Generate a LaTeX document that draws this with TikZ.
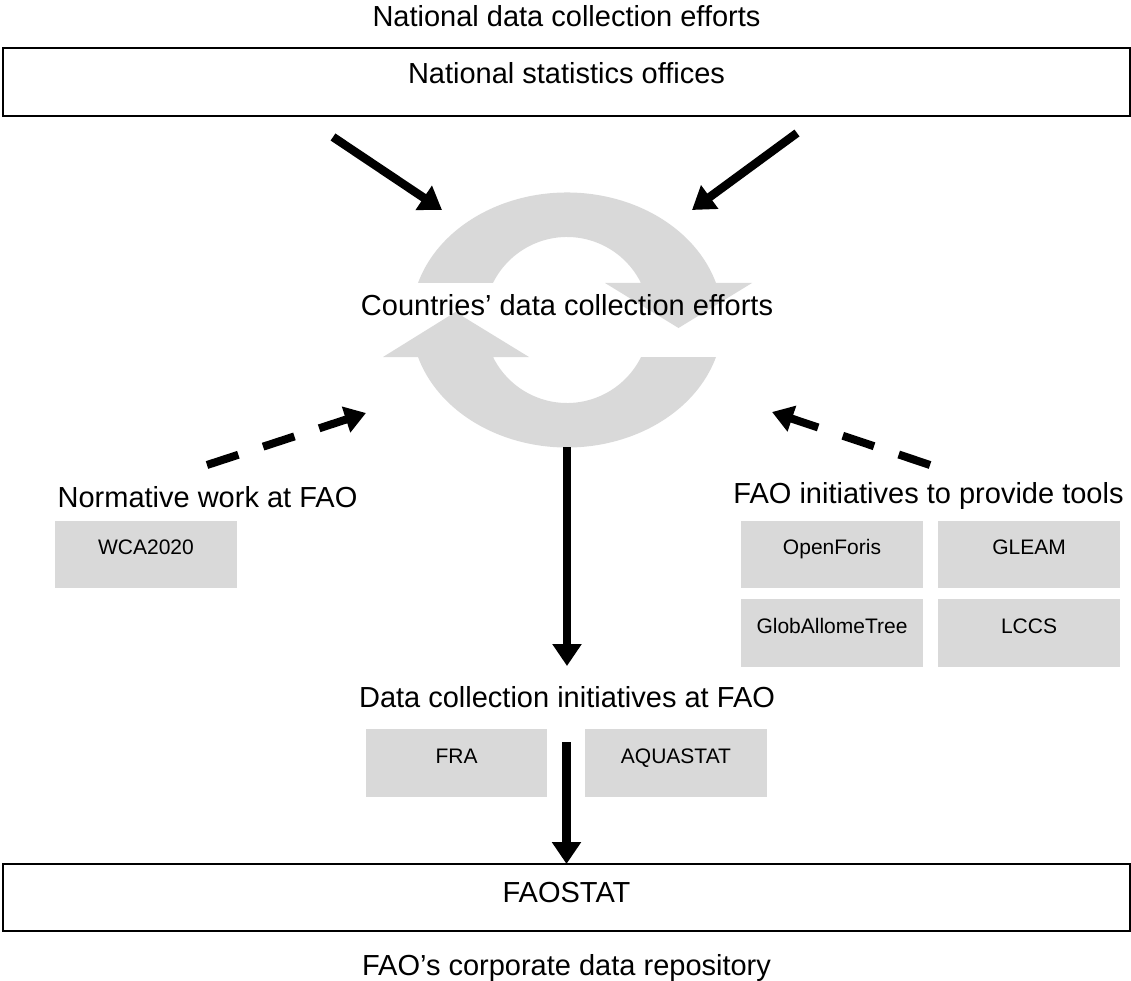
\documentclass[tikz,border=0pt]{standalone}
\usepackage{fontspec}
\setmainfont{Liberation Sans}
\usetikzlibrary{arrows.meta,shapes.geometric}
\definecolor{ringgray}{HTML}{D9D9D9}
\definecolor{boxgray}{HTML}{D9D9D9}
\begin{document}
\begin{tikzpicture}[x=1pt,y=-1pt,
  maintext/.style={font=\fontsize{29}{35}\selectfont, inner sep=0pt, anchor=base},
  bigbox/.style={draw=black, line width=2pt, rectangle, inner sep=0pt, outer sep=0pt,
    minimum width=1127pt, font=\fontsize{29}{35}\selectfont},
  graybox/.style={fill=boxgray, rectangle, inner sep=0pt, outer sep=0pt,
    minimum width=182pt, minimum height=67pt, text height=15pt, text depth=15pt,
    font=\fontsize{21}{25}\selectfont},
  solidarrow/.style={line width=8.5pt, -{Triangle[length=22pt,width=28pt]}},
  dasharrow/.style={line width=8pt, dash pattern=on 33pt off 26pt, -{Triangle[length=21pt,width=26pt]}},
]
\useasboundingbox (0,0) rectangle (1131,981);

% top
\node[maintext] (ndce) at (566.5,27) {National data collection efforts};
\node[bigbox, minimum height=68pt, text height=22pt, text depth=18pt] (nso) at (566.5,82) {National statistics offices};

% ring (cycle)
\node[ellipse, minimum width=311pt, minimum height=255pt, inner sep=0pt, outer sep=0pt] (ring) at (567,319.5) {};
\fill[ringgray] (418,283) arc[start angle=196.87, end angle=343.13, x radius=155.7, y radius=127.5]
  -- (752,283) -- (678.5,328) -- (605,283) -- (641,283)
  arc[start angle=333.53, end angle=206.47, x radius=82.7, y radius=83] -- cycle;
\fill[ringgray] (716,357) arc[start angle=16.87, end angle=163.13, x radius=155.7, y radius=127.5]
  -- (383,357) -- (455.5,312) -- (529,357) -- (493,357)
  arc[start angle=153.53, end angle=26.47, x radius=82.7, y radius=83] -- cycle;
\node[maintext] (cdce) at (567,315) {Countries’ data collection efforts};

% arrows from national offices
\coordinate (a1s) at (333,137);
\coordinate (a1e) at (442,210);
\coordinate (a2s) at (797,133);
\coordinate (a2e) at (692,210);
\draw[solidarrow] (a1s) -- (a1e);
\draw[solidarrow] (a2s) -- (a2e);

% left side
\node[maintext] (nw) at (207.5,507) {Normative work at FAO};
\node[graybox] (wca) at (146,554.5) {WCA2020};
\coordinate (d1s) at (207,465);
\coordinate (d1e) at (366,413);
\draw[dasharrow] (d1s) -- (d1e);

% right side
\node[maintext] (fit) at (928.5,503) {FAO initiatives to provide tools};
\node[graybox] (of) at (832,554.5) {OpenForis};
\node[graybox] (gleam) at (1029,554.5) {GLEAM};
\node[graybox, minimum height=68pt] (gat) at (832,633) {GlobAllomeTree};
\node[graybox, minimum height=68pt] (lccs) at (1029,633) {LCCS};
\coordinate (d2s) at (930,465);
\coordinate (d2e) at (772,412);
\draw[dasharrow] (d2s) -- (d2e);

% centre down
\coordinate (v1e) at (567,666);
\draw[solidarrow] (ring.south) -- (v1e);
\node[maintext] (dci) at (567,707) {Data collection initiatives at FAO};
\node[graybox, minimum width=181pt, minimum height=68pt] (fra) at (456.5,763) {FRA};
\node[graybox, minimum height=68pt] (aqua) at (676,763) {AQUASTAT};

% bottom
\node[bigbox, minimum height=67pt, text height=22pt, text depth=13pt] (faostat) at (566.5,897.5) {FAOSTAT};
\coordinate (v2s) at (566.5,742);
\draw[solidarrow] (v2s) -- (faostat.north);
\node[maintext] (repo) at (566.5,975) {FAO’s corporate data repository};
\end{tikzpicture}
\end{document}
